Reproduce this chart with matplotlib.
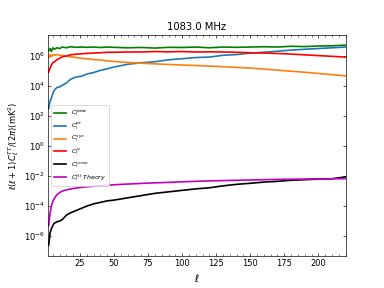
import matplotlib
matplotlib.use("Agg")
import matplotlib.pyplot as plt
from matplotlib.ticker import AutoMinorLocator, NullLocator

ell = [2, 3, 4, 5, 6, 8, 10, 12, 15, 18, 22, 26, 30, 35, 40, 45, 50, 60, 70, 80,
       90, 100, 110, 120, 130, 140, 150, 160, 170, 180, 190, 200, 210, 220]

cl_data = [2.24e6, 3.16e6, 2.0e6, 3.55e6, 2.82e6, 3.55e6, 3.16e6, 3.98e6, 3.55e6, 4.17e6,
           3.8e6, 3.98e6, 3.8e6, 3.98e6, 3.72e6, 3.98e6, 3.8e6, 3.55e6, 3.72e6, 3.39e6,
           3.8e6, 3.72e6, 3.98e6, 3.55e6, 3.98e6, 3.8e6, 3.98e6, 4.17e6, 3.98e6, 4.47e6,
           4.27e6, 4.68e6, 4.79e6, 5.37e6]
cl_pt = [316, 1000, 1585, 3162, 5012, 7943, 8913, 1.12e4, 1.58e4, 2.82e4,
         3.98e4, 4.47e4, 6.31e4, 7.94e4, 1.12e5, 1.41e5, 1.86e5, 2.82e5, 3.55e5, 4.17e5,
         5.62e5, 6.61e5, 7.94e5, 8.51e5, 1.12e6, 1.26e6, 1.58e6, 1.78e6, 2.09e6, 2.51e6,
         2.82e6, 3.16e6, 3.55e6, 3.98e6]
cl_syn = [7.94e5, 1.26e6, 8.91e5, 1.26e6, 1.12e6, 1.26e6, 1.12e6, 1.12e6, 1.0e6, 8.91e5,
          7.94e5, 7.08e5, 6.61e5, 5.89e5, 5.37e5, 4.79e5, 4.37e5, 3.72e5, 3.31e5, 3.02e5,
          2.75e5, 2.51e5, 2.34e5, 2.14e5, 1.95e5, 1.74e5, 1.58e5, 1.35e5, 1.15e5, 9.77e4,
          8.32e4, 6.92e4, 5.75e4, 4.79e4]
cl_ff = [8.5e4, 1.58e5, 2.51e5, 3.55e5, 3.98e5, 5.62e5, 7.08e5, 8.91e5, 1.0e6, 1.2e6,
         1.32e6, 1.41e6, 1.51e6, 1.58e6, 1.66e6, 1.78e6, 1.78e6, 1.86e6, 1.86e6, 2.0e6,
         1.91e6, 2.0e6, 1.86e6, 1.91e6, 1.86e6, 1.78e6, 1.66e6, 1.58e6, 1.48e6, 1.35e6,
         1.2e6, 1.07e6, 9.55e5, 8.51e5]
cl_noise = [2.51e-7, 1.58e-6, 3.16e-6, 5.01e-6, 7.08e-6, 8.91e-6, 1e-5, 1.26e-5, 2.51e-5, 3.55e-5,
            5.01e-5, 7.08e-5, 1e-4, 1.41e-4, 1.78e-4, 2.24e-4, 2.51e-4, 3.55e-4, 5.01e-4, 7.08e-4,
            8.91e-4, 1.12e-3, 1.41e-3, 1.66e-3, 2.24e-3, 2.82e-3, 3.31e-3, 3.98e-3, 4.47e-3, 5.25e-3,
            5.75e-3, 6.31e-3, 6.61e-3, 8.91e-3]
cl_hi = [5.01e-6, 3.16e-5, 1e-4, 2.0e-4, 3.16e-4, 5.62e-4, 7.94e-4, 1e-3, 1.2e-3, 1.38e-3,
         1.58e-3, 1.78e-3, 1.95e-3, 2.09e-3, 2.29e-3, 2.45e-3, 2.63e-3, 2.95e-3, 3.24e-3, 3.55e-3,
         3.8e-3, 4.17e-3, 4.47e-3, 4.79e-3, 5.01e-3, 5.25e-3, 5.5e-3, 5.75e-3, 6.03e-3, 6.17e-3,
         6.31e-3, 6.46e-3, 6.61e-3, 6.76e-3]

fig, ax = plt.subplots(figsize=(6.4, 4.8), dpi=60)
lw = 2.0
ax.plot(ell, cl_data, color='green', lw=lw, label=r'$C_l^{data}$')
ax.plot(ell, cl_pt, color='tab:blue', lw=lw, label=r'$C_l^{pt}$')
ax.plot(ell, cl_syn, color='tab:orange', lw=lw, label=r'$C_l^{syn}$')
ax.plot(ell, cl_ff, color='red', lw=lw, label=r'$C_l^{ff}$')
ax.plot(ell, cl_noise, color='black', lw=lw, label=r'$C_l^{noise}$')
ax.plot(ell, cl_hi, color='m', lw=lw, label=r'$C_l^{HI}\ Theory$')

ax.set_yscale('log')
ax.set_xlim(1.5, 220)
ax.set_ylim(4.5e-8, 2.7e7)
ax.set_yticks([1e-6, 1e-4, 1e-2, 1e0, 1e2, 1e4, 1e6])
ax.yaxis.set_minor_locator(NullLocator())
ax.set_xticks([25, 50, 75, 100, 125, 150, 175, 200])
ax.xaxis.set_minor_locator(AutoMinorLocator(5))
ax.tick_params(which='both', direction='in', top=True, right=True)
ax.set_title('1083.0 MHz')
ax.set_xlabel(r'$\ell$', fontsize=12)
ax.set_ylabel(r'$\ell(\ell+1)C_\ell^{TT}/(2\pi)(\mathrm{mK}^2)$')
ax.legend(loc='center left', fontsize=7.5, labelspacing=0.35)
fig.savefig('out.png', dpi=60)
